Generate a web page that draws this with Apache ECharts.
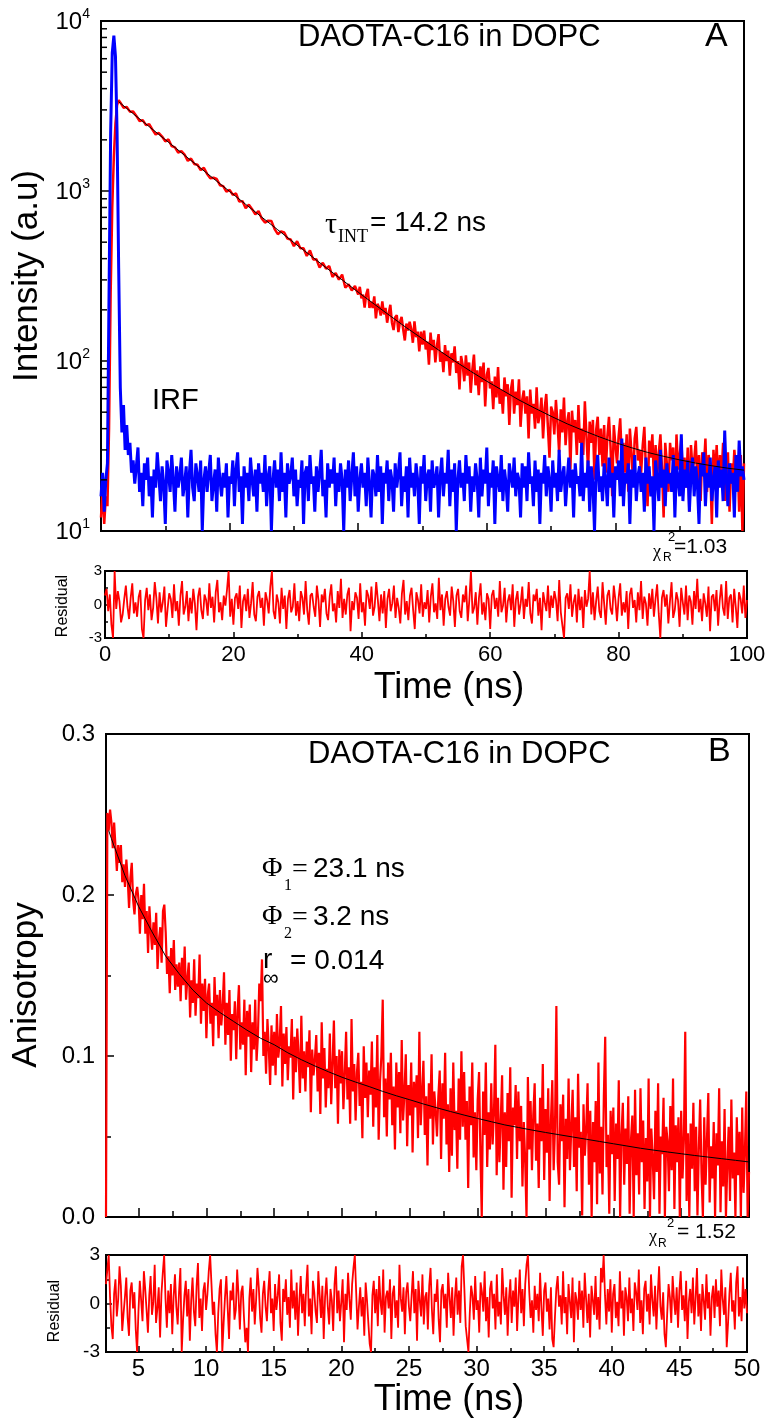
<!DOCTYPE html>
<html><head><meta charset="utf-8">
<script src="https://cdn.jsdelivr.net/npm/echarts@6/dist/echarts.min.js"></script>
<style>html,body{margin:0;padding:0;background:#fff}#c{width:772px;height:1427px}</style>
</head><body><div id="c"></div>
<script>
// ---------------- Panel A data (time in ns, intensity in counts) ----------------
const irfHeadTime = [0,0.25,0.5,0.75,1.0,1.25,1.5,1.75,2.0,2.25,2.5,2.75,3.0,3.25,3.5,3.75,4.0];
const irfHead = [16,22,13,20,25,250,2200,6500,8200,6200,2200,350,70,38,55,30,42];
const irfTailStart = 4.25, irfTailStep = 0.25;
const irfTail = [
 28,33,22,26,19,24,31,17,22,14,25,20,27,16,21,12,
 23,18,29,21,15,24,19,11,26,22,17,28,20,13,24,18,
 21,27,16,19,24,12,22,30,18,15,25,21,17,26,10,20,
 24,17,22,28,15,19,23,13,27,20,16,22,18,25,12,21,
 19,26,14,23,29,17,21,11,24,18,22,15,27,20,16,23,
 13,25,19,22,17,28,14,21,24,10,20,26,18,23,15,29,
 17,22,12,25,19,21,27,16,23,14,20,18,26,11,22,24,
 15,28,19,21,13,24,17,22,30,16,20,12,25,18,23,19,
 27,14,22,17,25,20,10,23,18,26,15,21,29,16,24,13,
 20,25,18,22,14,27,19,12,23,21,16,28,17,24,11,22,
 19,26,15,23,20,13,25,18,22,29,14,21,17,24,12,27,
 18,22,16,25,20,11,24,19,28,15,21,23,13,26,18,20,
 24,12,21,27,16,22,19,30,14,23,17,25,10,20,26,18,
 22,15,28,19,24,13,21,17,25,20,12,27,16,23,19,31,
 14,22,18,26,11,24,20,17,28,15,23,19,13,25,21,18,
 27,16,22,20,12,25,18,24,15,29,19,21,14,26,17,23,
 11,22,19,28,16,24,20,13,26,18,22,15,30,17,21,24,
 14,20,27,18,23,12,25,19,21,16,33,15,22,18,26,13,
 24,19,10,23,28,17,21,15,25,20,14,27,18,22,12,24,
 20,26,16,35,14,22,19,25,11,23,18,28,15,21,24,17,
 22,13,27,19,24,16,21,10,26,20,15,30,18,23,14,25,
 19,22,17,28,12,24,20,16,37,15,23,18,26,13,21,27,
 16,24,19,11,25,21,29,14,22,18,27,15,20,24,12,26,
 18,23,15,39,20,14,25,19,22,12,28,17,34,21,24,20];

const decayHeadTime = [0,0.25,0.5,0.75,1.0,1.25,1.5,1.75,2.0,2.25,2.5,2.75];
const decayHead = [12,18,11,16,14,40,250,800,1600,2500,3200,3420];
const decayEarlyStart = 3.0, decayEarlyStep = 0.5;
const decayEarly = [3320,3090,3120,2930,2935,2765,2580,2610,2440,2470,
 2295,2150,2195,2090,1960,2010,1835,1805,1685,1715,
 1635,1505,1550,1443,1428,1328,1370,1260,1190,1196,
 1177,1082,1068,990,1015,950,967,866,872,793,
 831,782,730,762,690,652,669,667,597,557,
 579,570,525,518,474,506,460,461,415,447,
 396,397,355,378,349,362,312,329,301,322,
 270,282,260,276,246];
const decayLateStart = 40.25, decayLateStep = 0.25;
const decayLate = [
 273,234,246,206,247,266,205,223, 205,240,178,217,207,185,224,188,
 205,168,191,214,168,152,181,186, 148,170,182,153,132,166,151,170,
 154,128,171,138,149,114,149,125, 151,117,130,95,147,116,133,98,
 123,144,99,113,86,124,100,115, 82,111,98,122,85,100,68,107,
 95,76,108,82,98,65,89,109, 72,88,63,93,75,98,54,83,
 91,69,76,52,81,61,92,56, 68,49,80,62,73,42,68,78,
 49,66,55,78,41,59,67,49, 62,35,68,49,56,40,70,43,
 48,61,35,53,64,41,27,54, 50,37,59,43,29,52,38,61,
 32,44,50,23,51,38,45,28, 55,33,40,28,58,36,23,44,
 33,45,20,39,47,28,40,24, 42,22,36,47,31,16,42,32,
 25,36,46,26,33,22,37,17, 40,29,19,35,41,26,30,22,
 32,41,23,14,34,27,37,19, 32,21,29,37,23,12,33,25,
 17,33,26,31,15,37,23,28, 35,21,27,18,31,13,32,23,
 26,34,19,28,15,29,23,35, 17,28,23,11,30,20,32,18,
 28,21,33,15,25,29,13,25, 19,30,22,27,13,28,10,25];

const fitATime = [2.75,5,7.5,10,12.5,15,17.5,20,22.5,25,27.5,30,32.5,35,37.5,40,42.5,45,47.5,50,
 52.5,55,57.5,60,62.5,65,67.5,70,72.5,75,77.5,80,82.5,85,87.5,90,92.5,95,97.5,100];
const fitAVal = [3350,2851,2390,2004,1681,1410,1183,994,835,702,591,497,420,354,300,254,216,184,157,135,
 116,100,87,76,67,59,52.7,47.3,42.7,39,35.8,33.1,30.9,29,27.5,26.2,25.1,24.2,23.4,22.8];

const residAStart = 0, residAStep = 0.25;
const residA = [
 0.8,1.4,-0.6,0.9,-1.8,-3,3,-0.4,1.2,0.3,-1.6,-0.9,0.5,1.7,-0.2,-1.3,0.6,1.9,-0.8,0.2,
 -1.1,0.7,1.3,-2.2,-3,0.4,1.5,-0.5,0.9,-1.4,-0.3,2.0,0.6,-1.7,1.1,-0.7,0.2,1.6,-2.0,-0.4,
 1.0,0.5,-1.2,1.8,-0.6,0.3,-1.9,0.8,2.1,-0.9,-0.2,1.2,-1.5,0.6,-0.8,1.4,0.1,-2.3,0.7,1.5,
 -0.5,-1.3,0.9,0.4,-1.0,1.9,-0.3,0.7,-1.6,1.1,2.2,-0.7,0.2,-1.4,0.8,-0.1,1.3,3,-1.1,0.5,
 -1.8,0.6,1.0,-0.4,1.7,-2.1,0.3,0.9,-0.6,1.4,-1.2,0.1,2.0,-0.9,-1.5,0.7,1.2,-0.3,0.6,-1.9,
 1.1,0.4,-0.8,1.6,3,-0.6,-1.3,0.9,0.2,-1.7,1.5,-0.4,0.8,-2.2,0.5,1.3,-0.7,-0.2,1.9,-1.0,
 0.3,-1.5,1.2,0.6,-0.9,2.1,-0.5,-1.8,0.8,1.0,-0.2,-1.1,1.7,0.4,-2.0,0.9,0.2,1.4,-0.8,-1.4,
 0.7,1.8,-0.6,0.1,-1.6,1.2,-0.3,2.3,-1.2,0.5,-0.9,0.9,1.5,-2.4,0.3,-0.5,1.1,0.6,-1.3,1.9,
 -0.7,0.2,-1.9,1.3,0.8,-0.4,1.6,-1.0,-0.2,2.0,0.4,-1.5,0.9,-0.8,1.2,-2.1,0.5,1.4,-0.6,0.1,
 1.7,-1.2,0.6,-0.3,-1.7,1.0,2.2,-0.9,0.3,-1.4,0.8,1.5,-0.5,-2.2,1.1,0.4,-0.8,1.8,-1.1,0.2,
 -0.4,1.3,-1.6,0.7,1.9,-0.7,0.1,-1.3,2.4,-0.5,0.9,-1.9,0.5,1.2,-0.2,-1.0,1.6,0.3,-2.0,0.8,
 1.4,-0.6,-1.2,0.9,0.2,1.7,-1.5,0.4,3,-0.8,-0.3,1.1,-1.8,0.6,1.9,-0.9,0.2,-1.4,1.0,0.5,
 -2.2,0.8,1.3,-0.4,0.6,-1.1,2.1,-0.7,-0.1,1.5,-1.6,0.3,0.9,-0.5,1.8,-2.0,0.4,1.2,-0.9,0.1,
 1.6,-1.3,0.5,-0.2,2.0,-0.8,-1.7,0.9,0.3,1.4,-1.0,0.6,-2.3,1.1,0.2,-0.6,1.7,-1.2,0.8,-0.3,
 1.2,0.4,-1.5,2.2,-0.7,-1.9,-3,0.6,1.0,-0.4,1.8,-1.1,0.2,0.9,-1.6,1.4,-0.5,0.7,-2.1,1.3,
 -0.2,0.5,3,-0.9,1.1,-1.4,0.3,1.6,-0.6,-1.2,2.0,0.1,-1.8,0.8,1.3,-0.4,-0.9,1.7,0.4,-1.5,
 0.6,1.9,-1.0,0.2,-0.7,1.2,-2.2,0.9,1.5,-0.3,0.4,-1.6,1.1,-0.5,2.1,-1.3,0.7,0.1,-1.9,1.0,
 -0.4,1.4,-1.1,0.5,1.8,-0.8,-3,0.6,1.3,-0.2,0.9,-1.7,0.3,2.0,-1.2,-0.5,1.1,0.4,-2.0,1.5,
 0.2,-0.9,1.7,-1.4,0.8,0.3,-1.8,1.2,-0.4,2.3,-0.7,0.5,-1.5,1.0,0.1,-1.1,1.6,-2.4,0.7,0.9,
 -0.6,1.3,-1.9,0.4,1.8,-0.3,-1.0,2.1,-1.3,0.6,0.9,-1.6,1.4,-0.2,-2.1,1.1,0.5,-0.8,1.7,-1.2,
 0.4];

// ---------------- Panel B data (time in ns, anisotropy) ----------------
const anisoStart = 2.6, anisoStep = 0.1;
const aniso = [0,0.251,0.240,0.253,
 0.245,0.229,0.245,0.230,0.215,0.231,0.220,0.231,0.208,0.219,
 0.205,0.222,0.210,0.192,0.211,0.220,0.197,0.188,0.201,0.205,
 0.197,0.176,0.200,0.185,0.207,0.176,0.190,0.164,0.193,0.177,
 0.166,0.183,0.169,0.189,0.154,0.172,0.180,0.158,0.190,0.194,
 0.177,0.151,0.162,0.139,0.167,0.150,0.172,0.141,0.157,0.143,
 0.158,0.134,0.161,0.144,0.168,0.135,0.148,0.158,0.124,0.147,
 0.133,0.160,0.125,0.145,0.136,0.163,0.120,0.145,0.128,0.148,
 0.111,0.138,0.145,0.120,0.133,0.106,0.149,0.125,0.138,0.111,
 0.141,0.119,0.131,0.152,0.107,0.133,0.113,0.141,0.097,0.126,
 0.116,0.134,0.098,0.128,0.144,0.104,0.121,0.107,0.135,0.088,
 0.128,0.112,0.132,0.090,0.121,0.104,0.135,0.097,0.113,0.145,
 0.134,0.160,0.100,0.115,0.089,0.123,0.105,0.082,0.119,0.094,
 0.115,0.088,0.126,0.099,0.108,0.131,0.081,0.114,0.095,0.118,
 0.085,0.106,0.099,0.123,0.073,0.112,0.090,0.117,0.100,0.077,
 0.125,0.086,0.103,0.078,0.109,0.093,0.116,0.065,0.104,0.088,
 0.098,0.113,0.078,0.102,0.064,0.121,0.086,0.105,0.068,0.092,
 0.080,0.114,0.070,0.095,0.122,0.080,0.100,0.058,0.104,0.083,
 0.103,0.067,0.089,0.115,0.073,0.093,0.058,0.123,0.078,0.095,
 0.060,0.090,0.102,0.069,0.084,0.049,0.106,0.074,0.096,0.062,
 0.091,0.076,0.109,0.056,0.093,0.068,0.113,0.048,0.084,0.100,
 0.135,0.062,0.086,0.050,0.096,0.073,0.102,0.057,0.081,0.042,
 0.096,0.068,0.090,0.052,0.110,0.060,0.077,0.101,0.044,0.082,
 0.063,0.096,0.040,0.084,0.068,0.088,0.049,0.115,0.057,0.077,
 0.097,0.051,0.075,0.032,0.083,0.061,0.101,0.045,0.078,0.066,
 0.050,0.075,0.091,0.036,0.083,0.061,0.102,0.045,0.070,0.028,
 0.080,0.038,0.096,0.054,0.066,0.030,0.086,0.048,0.103,0.056,
 0.090,0.048,0.072,0.018,0.081,0.057,0.096,0.037,0.065,0.029,
 0.073,0.090,0.040,0.000,0.078,0.051,0.096,0.031,0.065,0.042,
 0.083,0.045,0.065,0.107,0.026,0.074,0.034,0.060,0.088,0.017,
 0.065,0.031,0.077,0.047,0.093,0.012,0.068,0.057,0.082,0.036,
 0.078,0.047,0.069,0.019,0.059,0.035,0.000,0.087,0.042,0.072,
 0.029,0.064,0.083,0.035,0.058,0.018,0.074,0.047,0.095,0.023,
 0.067,0.040,0.080,0.010,0.060,0.085,0.029,0.056,0.131,0.034,
 0.020,0.070,0.047,0.076,0.006,0.061,0.036,0.086,0.029,0.056,
 0.079,0.031,0.062,0.016,0.089,0.043,0.053,0.001,0.070,0.038,
 0.055,0.083,0.020,0.066,0.000,0.059,0.034,0.072,0.008,0.096,
 0.027,0.056,0.014,0.075,0.112,0.031,0.051,0.002,0.066,0.039,
 0.068,0.010,0.058,0.036,0.085,0.000,0.051,0.071,0.020,0.055,
 0.033,0.075,0.002,0.048,0.063,0.000,0.079,0.026,0.052,0.014,
 0.080,0.034,0.060,0.005,0.049,0.022,0.086,0.000,0.055,0.037,
 0.011,0.066,0.028,0.083,0.002,0.050,0.039,0.074,0.000,0.056,
 0.047,0.016,0.069,0.029,0.086,0.005,0.057,0.034,0.062,0.000,
 0.066,0.024,0.048,0.115,0.010,0.052,0.000,0.058,0.030,0.071,
 0.016,0.056,0.001,0.042,0.073,0.027,0.000,0.062,0.020,0.048,
 0.077,0.009,0.044,0.024,0.059,0.000,0.052,0.032,0.080,0.003,
 0.047,0.019,0.067,0.000,0.032,0.056,0.010,0.073,0.024,0.040,
 0.000,0.062,0.026,0.053,0.000,0.068,0.015,0.041,0.078,0.000,
 0.028];

const fitBTime = [2.8,3,4,5,6,7,8,9,10,11,12,13,14,15,16,17,18,19,20,21,22,23,24,25,26,
 27,28,29,30,31,32,33,34,35,36,37,38,39,40,41,42,43,44,45,46,47,48,49,50];
const fitBVal = [0.240,0.235,0.212,0.193,0.177,0.162,0.151,0.141,0.133,0.127,0.1215,0.116,0.111,0.107,0.102,
 0.0977,0.0938,0.0902,0.0868,0.0838,0.0810,0.0780,0.0753,0.0728,0.0702,0.0678,0.0655,0.0633,0.0612,0.0592,
 0.0572,0.0556,0.0540,0.0525,0.0511,0.0497,0.0483,0.0469,0.0455,0.0441,0.0427,0.0415,0.0404,0.0393,0.0382,
 0.0372,0.0362,0.0352,0.0342];

const residBStart = 2.6, residBStep = 0.1;
const residB = [
 1.2,2.1,3,0.4,-1.4,-2.2,0.6,1.5,-0.8,0.2,2.3,1.1,-1.7,-0.6,0.4,1.6,-0.9,-2.0,0.8,1.3,-0.3,0.7,-1.6,-3,-0.5,
 1.4,0.2,-1.1,2.0,0.9,-0.4,-1.8,0.5,1.7,-0.7,0.1,2.4,-1.2,-0.3,1.0,-2.1,0.6,1.9,3,0.3,-1.5,0.8,-0.6,1.2,-1.9,
 0.4,1.8,-0.2,-1.3,0.7,2.2,-3,-1.0,0.5,1.4,-0.8,0.9,-2.3,0.2,1.6,-0.5,-1.4,1.1,2.5,-0.9,0.3,-1.7,0.8,1.3,-0.4,
 0.6,2.0,3,1.2,-0.7,0.1,-1.9,-3,-0.6,0.9,1.5,-3,-1.2,0.4,1.7,-0.3,-2.2,0.8,0.2,1.3,-1.0,-0.4,2.1,0.5,-1.6,
 0.7,1.1,-0.8,-2.4,-1.5,-3,0.3,1.6,-0.5,0.9,-1.3,0.2,2.2,1.0,-0.9,-1.8,0.6,1.4,-0.2,-1.1,0.8,2.0,-0.6,0.3,-1.7,
 1.2,-0.4,0.5,1.8,-1.2,-2.3,0.9,0.1,1.5,-0.7,0.4,-1.5,2.1,-0.3,0.8,-1.0,1.3,-2.0,0.2,1.7,-0.6,0.6,-1.4,1.0,2.4,
 -0.8,0.3,-1.9,1.4,0.7,-0.5,-1.2,2.0,0.5,-0.9,1.1,-2.2,0.4,1.6,-0.2,-1.3,0.9,0.2,-1.7,1.2,2.3,-0.6,0.8,-1.1,0.1,
 1.5,-2.4,0.6,-0.4,1.9,0.3,-1.0,1.2,2.2,3,0.7,-1.6,-0.2,1.0,-0.8,0.4,-2.0,1.3,0.2,-1.2,-2.5,-3,0.5,1.4,-0.6,
 0.9,-1.4,1.7,0.1,-0.7,2.1,-1.8,0.4,0.8,-0.3,1.5,-2.2,0.6,1.1,-0.9,0.2,-1.5,2.4,0.3,-0.5,1.0,-1.9,0.7,1.3,-0.2,
 -1.1,0.5,2.0,-0.6,0.9,-2.3,1.4,0.2,-0.8,1.8,-1.3,0.4,0.7,-1.6,1.1,2.2,-0.4,-1.9,0.6,0.1,1.5,-1.0,-2.4,0.8,1.2,
 -0.3,0.6,-1.5,1.9,0.4,-0.9,1.0,-2.0,0.3,1.6,-0.7,0.8,-1.2,2.3,3,0.9,-1.4,-2.2,-3,-0.6,1.1,0.5,-1.0,1.7,-0.4,
 0.2,-1.8,1.3,0.7,-0.5,2.0,-1.1,0.4,-2.1,0.9,1.4,-0.3,0.6,-1.6,1.8,-0.8,0.1,-1.3,2.2,0.5,-0.7,1.0,-2.0,0.3,1.5,
 -1.2,0.8,-0.2,1.6,-1.7,0.4,2.1,-0.6,0.9,-1.4,1.2,2.4,3,0.7,-0.9,0.2,-1.8,1.1,-0.4,0.6,-1.1,1.9,-0.3,-2.0,0.8,
 1.3,-0.5,0.3,-1.6,1.0,-2.2,-2.7,-0.8,0.9,1.7,-0.2,0.5,-1.3,2.0,-0.6,0.4,-1.9,1.2,0.1,-0.9,1.6,-2.4,0.7,0.2,-1.0,
 1.4,-0.4,0.8,-1.5,1.9,0.3,-1.2,0.6,-2.1,1.1,0.2,-0.7,1.7,-1.0,0.4,-1.6,2.2,1.3,3,0.5,-1.3,0.9,-0.5,1.5,-1.8,
 0.6,1.2,-0.9,0.1,-1.4,2.0,-0.3,0.8,-2.0,1.0,0.4,-1.1,1.6,-0.6,0.3,-1.7,1.3,0.7,-0.4,2.1,-1.2,0.2,-1.9,0.9,1.4,
 -0.5,0.6,-1.3,1.8,0.2,-0.8,1.1,-1.6,0.5,2.3,-0.2,-1.0,0.7,-1.9,-2.7,-0.6,1.2,0.4,-1.2,1.7,0.3,-0.7,1.0,-1.5,0.8,
 2.0,-0.4,0.5,-1.1,1.4,-2.2,0.1,0.9,-0.6,1.6,-1.3,0.3,2.2,-0.8,0.6,-1.7,1.2,0.2,-1.0,1.8,-0.3,0.7,-2.0,0.4,1.1,
 -0.9,1.5,-0.2,0.8,-1.4,2.1,0.3,-0.7,1.0,-2.7,-1.2,0.6,1.9,-0.5,0.2,-1.6,1.3,2.3,-0.8,0.4,-1.1,1.6,-0.3,0.9,-0.6];

// tick value lists
const logMinorTicks = [20,30,40,50,60,70,80,90,200,300,400,500,600,700,800,900,2000,3000,4000,5000,6000,7000,8000,9000];
const bMajorTicks = [5,10,15,20,25,30,35,40,45,50];
const bMinorTicks = [7.5,12.5,17.5,22.5,27.5,32.5,37.5,42.5,47.5];

// ---------------- helpers ----------------
const uni = (start, step, vals) => vals.map((v, i) => [+(start + i * step).toFixed(3), v]);
const zip = (t, v) => t.map((x, i) => [x, v[i]]);
const SANS = "'Liberation Sans', Arial, sans-serif";
const SERIF = "'Liberation Serif', 'Times New Roman', serif";
const BLACK = '#000';

const redA = zip(decayHeadTime, decayHead)
  .concat(uni(decayEarlyStart, decayEarlyStep, decayEarly))
  .concat(uni(decayLateStart, decayLateStep, decayLate));
const blueA = zip(irfHeadTime, irfHead).concat(uni(irfTailStart, irfTailStep, irfTail));

function baseX(grid, opts) {
  return Object.assign({
    type: 'value', gridIndex: grid, position: 'bottom',
    axisLine: { show: true, onZero: false, lineStyle: { color: BLACK, width: 2 } },
    axisTick: { show: true, inside: true, length: 8, lineStyle: { color: BLACK, width: 1.5 } },
    axisLabel: { show: false },
    splitLine: { show: false }
  }, opts);
}
function baseY(grid, opts) {
  return Object.assign({
    type: 'value', gridIndex: grid, position: 'left',
    axisLine: { show: true, onZero: false, lineStyle: { color: BLACK, width: 2 } },
    axisTick: { show: true, inside: true, length: 8, lineStyle: { color: BLACK, width: 1.5 } },
    axisLabel: { show: false },
    splitLine: { show: false }
  }, opts);
}
const gridBox = (l, t, w, h) => ({ left: l, top: t, width: w, height: h, show: true, borderColor: BLACK, borderWidth: 2,
  backgroundColor: 'rgba(0,0,0,0)', containLabel: false, outerBoundsMode: 'none' });

function txt(text, x, y, size, opts) {
  opts = opts || {};
  return {
    type: 'text', x: x, y: y, rotation: opts.rot || 0, z: 100,
    style: {
      text: text, font: size + 'px ' + (opts.family || SANS), fill: BLACK,
      align: opts.align || 'left', textAlign: opts.align || 'left',
      verticalAlign: 'middle', textVerticalAlign: 'middle'
    }
  };
}

const chart = echarts.init(document.getElementById('c'), null, { renderer: 'canvas' });
chart.setOption({
  animation: false,
  backgroundColor: '#fff',
  grid: [
    gridBox(101, 21, 643, 510),
    gridBox(105, 571, 642, 67),
    gridBox(106, 734, 643, 483),
    gridBox(106, 1255, 641, 97)
  ],
  xAxis: [
    baseX(0, { min: 0, max: 100, interval: 20,
      minorTick: { show: true, splitNumber: 2, length: 5, lineStyle: { color: BLACK, width: 1.5 } } }),
    baseX(1, { min: 0, max: 100, interval: 20,
      axisTick: { show: true, inside: true, length: 6, lineStyle: { color: BLACK, width: 1.5 } },
      minorTick: { show: true, splitNumber: 2, length: 4, lineStyle: { color: BLACK, width: 1.5 } },
      axisLabel: { show: true, fontSize: 22, fontFamily: SANS, color: BLACK, margin: 6 } }),
    baseX(2, { min: 2.6, max: 50,
      axisTick: { show: true, inside: true, length: 9, customValues: bMajorTicks, lineStyle: { color: BLACK, width: 1.5 } } }),
    baseX(3, { min: 2.6, max: 50,
      axisTick: { show: true, inside: true, length: 6, customValues: bMajorTicks, lineStyle: { color: BLACK, width: 1.5 } },
      axisLabel: { show: true, customValues: bMajorTicks, fontSize: 24, fontFamily: SANS, color: BLACK, margin: 5 } }),
    baseX(2, { min: 2.6, max: 50, axisLine: { show: false, onZero: false },
      axisTick: { show: true, inside: true, length: 6, customValues: bMinorTicks, lineStyle: { color: BLACK, width: 1.5 } } }),
    baseX(3, { min: 2.6, max: 50, axisLine: { show: false, onZero: false },
      axisTick: { show: true, inside: true, length: 4, customValues: bMinorTicks, lineStyle: { color: BLACK, width: 1.5 } } })
  ],
  yAxis: [
    baseY(0, { type: 'log', logBase: 10, min: 10, max: 10000,
      axisLabel: { show: true, margin: 11,
        formatter: v => '{b|10}{s|' + Math.round(Math.log10(v)) + '}',
        rich: {
          b: { fontSize: 24, fontFamily: SANS, color: BLACK, lineHeight: 27, verticalAlign: 'bottom' },
          s: { fontSize: 14, fontFamily: SANS, color: BLACK, lineHeight: 27, verticalAlign: 'top' }
        } } }),
    baseY(1, { min: -3, max: 3, interval: 3,
      axisTick: { show: true, inside: true, length: 5, lineStyle: { color: BLACK, width: 1.5 } },
      minorTick: { show: true, splitNumber: 2, length: 3, lineStyle: { color: BLACK, width: 1.5 } },
      axisLabel: { show: true, fontSize: 15, fontFamily: SANS, color: BLACK, margin: 3 } }),
    baseY(2, { min: 0, max: 0.3, interval: 0.1,
      minorTick: { show: true, splitNumber: 2, length: 5, lineStyle: { color: BLACK, width: 1.5 } },
      axisLabel: { show: true, fontSize: 24, fontFamily: SANS, color: BLACK, margin: 11, formatter: v => v.toFixed(1) } }),
    baseY(3, { min: -3, max: 3, interval: 3,
      axisTick: { show: true, inside: true, length: 6, lineStyle: { color: BLACK, width: 1.5 } },
      minorTick: { show: true, splitNumber: 2, length: 4, lineStyle: { color: BLACK, width: 1.5 } },
      axisLabel: { show: true, fontSize: 19, fontFamily: SANS, color: BLACK, margin: 6 } })
  ],
  series: [
    { type: 'line', xAxisIndex: 0, yAxisIndex: 0, data: redA, showSymbol: false, symbol: 'none', z: 2,
      lineStyle: { color: '#ff0000', width: 2.5 } },
    { type: 'line', xAxisIndex: 0, yAxisIndex: 0, data: blueA, showSymbol: false, symbol: 'none', z: 3,
      lineStyle: { color: '#0000ff', width: 3 } },
    { type: 'line', xAxisIndex: 0, yAxisIndex: 0, data: zip(fitATime, fitAVal), showSymbol: false, symbol: 'none', z: 4,
      lineStyle: { color: '#000', width: 1 } },
    // minor ticks of the logarithmic intensity axis, placed through the axis scale
    { type: 'custom', xAxisIndex: 0, yAxisIndex: 0, silent: true, clip: false, z: 5,
      data: logMinorTicks.map(v => [0, v]),
      renderItem: (params, api) => {
        const p = api.coord([api.value(0), api.value(1)]);
        return { type: 'line', shape: { x1: p[0], y1: p[1], x2: p[0] + 6, y2: p[1] },
          style: { stroke: BLACK, lineWidth: 1.5 } };
      } },
    { type: 'line', xAxisIndex: 1, yAxisIndex: 1, data: uni(residAStart, residAStep, residA), showSymbol: false, symbol: 'none', z: 2,
      lineStyle: { color: '#ff0000', width: 1.8 } },
    { type: 'line', xAxisIndex: 2, yAxisIndex: 2, data: uni(anisoStart, anisoStep, aniso), showSymbol: false, symbol: 'none', z: 2,
      lineStyle: { color: '#ff0000', width: 2.2 } },
    { type: 'line', xAxisIndex: 2, yAxisIndex: 2, data: zip(fitBTime, fitBVal), showSymbol: false, symbol: 'none', z: 4,
      lineStyle: { color: '#000', width: 1 } },
    { type: 'line', xAxisIndex: 3, yAxisIndex: 3, data: uni(residBStart, residBStep, residB), showSymbol: false, symbol: 'none', z: 2,
      lineStyle: { color: '#ff0000', width: 1.8 } }
  ],
  graphic: [
    // Panel A annotations
    txt('DAOTA-C16 in DOPC', 298, 37, 31),
    txt('A', 705, 37, 34),
    txt('IRF', 152, 401, 29),
    txt('\u03C4', 325, 225, 30, { family: SERIF }),
    txt('INT', 338, 237, 18, { family: SERIF }),
    txt('= 14.2 ns', 370, 223, 28),
    txt('\u03C7', 653, 552, 18, { family: SERIF }),
    txt('R', 663, 558, 12),
    txt('2', 668, 537, 13),
    txt('=1.03', 674, 547, 21),
    txt('Intensity (a.u)', 27, 276, 35, { rot: Math.PI / 2, align: 'center' }),
    txt('Residual', 63, 606, 16, { rot: Math.PI / 2, align: 'center' }),
    txt('Time (ns)', 449, 688, 36, { align: 'center' }),
    // Panel B annotations
    txt('DAOTA-C16 in DOPC', 308, 754, 31),
    txt('B', 708, 752, 34),
    txt('\u03A6', 262, 869, 28, { family: SERIF }),
    txt('1', 284, 886, 16, { family: SERIF }),
    txt('=', 292, 870, 28, { family: SERIF }),
    txt('23.1 ns', 313, 869, 28),
    txt('\u03A6', 262, 917, 28, { family: SERIF }),
    txt('2', 284, 934, 16, { family: SERIF }),
    txt('=', 292, 918, 28, { family: SERIF }),
    txt('3.2 ns', 313, 917, 28),
    txt('r', 263, 960, 28),
    txt('\u221E', 263, 979, 22),
    txt('= 0.014', 290, 961, 28),
    txt('\u03C7', 649, 1237, 18, { family: SERIF }),
    txt('R', 658, 1244, 12),
    txt('2', 667, 1223, 13),
    txt('= 1.52', 677, 1232, 21),
    txt('Anisotropy', 26, 985, 35, { rot: Math.PI / 2, align: 'center' }),
    txt('Residual', 55, 1311, 16, { rot: Math.PI / 2, align: 'center' }),
    txt('Time (ns)', 449, 1400, 36, { align: 'center' })
  ]
});
</script>
</body></html>
